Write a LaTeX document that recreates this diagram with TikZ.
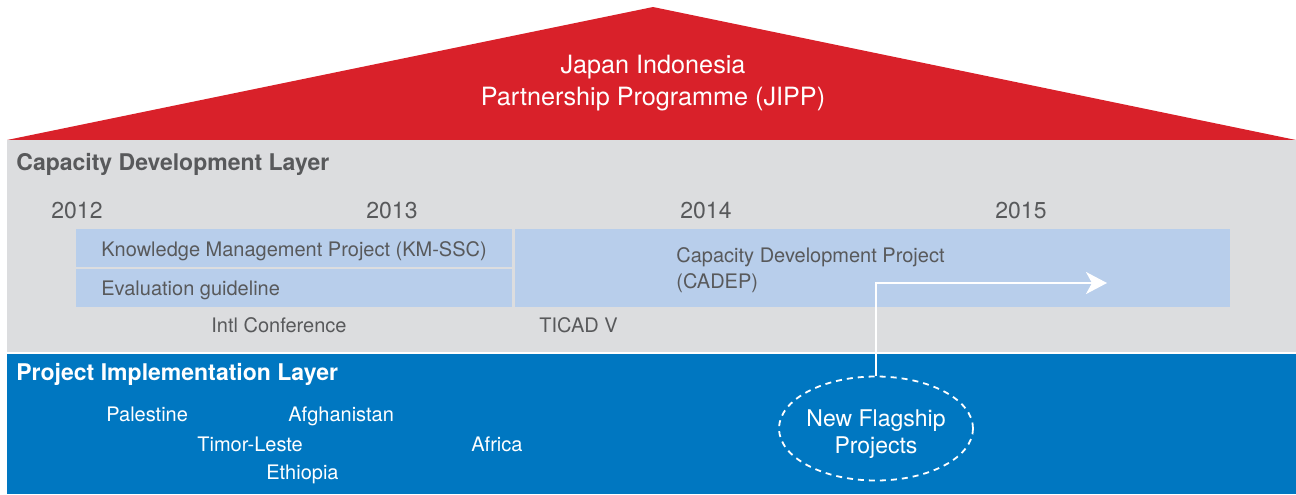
\documentclass[tikz,border=0pt]{standalone}
\usepackage{fontspec}
\setmainfont{TeX Gyre Heros}
\usetikzlibrary{shapes.geometric,arrows.meta}
\definecolor{roofred}{HTML}{D9212A}
\definecolor{capgray}{HTML}{DCDDDF}
\definecolor{implblue}{HTML}{0077C1}
\definecolor{barblue}{HTML}{B8CEEB}
\definecolor{labelgray}{HTML}{58595B}
\begin{document}
\begin{tikzpicture}[
    x=0.5pt, y=-0.5pt,
    every node/.style={inner xsep=0pt},
    roof/.style={anchor=base, align=center, text=white, font=\fontsize{12.6}{16}\selectfont},
    layer/.style={anchor=base west, font=\fontsize{11.5}{14}\selectfont\bfseries},
    year/.style={anchor=base west, text=labelgray, font=\fontsize{11.5}{14}\selectfont},
    bar/.style={fill=barblue},
    project/.style={anchor=base west, align=left, text=labelgray, font=\fontsize{10}{13}\selectfont},
    event/.style={anchor=base west, text=labelgray, font=\fontsize{10}{13}\selectfont},
    country/.style={anchor=base west, text=white, font=\fontsize{10}{12}\selectfont},
    flagship/.style={ellipse, draw=white, dash pattern=on 3pt off 2.5pt, line width=0.9pt,
        minimum width=97pt, minimum height=52pt, inner sep=0pt},
    flagtext/.style={anchor=base, align=center, text=white, font=\fontsize{11.5}{13.5}\selectfont},
    link/.style={-{Stealth[length=10.5pt, width=11pt, inset=3pt]}, white, line width=1pt}
]
    \useasboundingbox (0,0) rectangle (1296,494);

    \fill[roofred] (7,140) -- (653,7) -- (1296,140) -- cycle;
    \fill[capgray] (7,140) rectangle (1296,352);
    \fill[implblue] (7,354) rectangle (1296,494);

    % multi-line nodes sit on the baseline of their last line
    \node[roof] (jipp) at (653,105) {Japan Indonesia\\Partnership Programme (JIPP)};

    \node[layer, text=labelgray] (caplayer) at (16,170) {Capacity Development Layer};
    \node[year] (y2012) at (51,218) {2012};
    \node[year] (y2013) at (366,218) {2013};
    \node[year] (y2014) at (680,218) {2014};
    \node[year] (y2015) at (995,218) {2015};

    \fill[bar] (76,229) rectangle (511.5,267);
    \fill[bar] (76,269) rectangle (511.5,307);
    \fill[bar] (514.5,229) rectangle (1230,307);
    \node[project] (kmssc) at (101,256) {Knowledge Management Project (KM-SSC)};
    \node[project] (evalguide) at (101,295) {Evaluation guideline};
    \node[project] (cadep) at (676,288) {Capacity Development Project\\(CADEP)};

    \node[event] (intlconf) at (211,332) {Intl Conference};
    \node[event] (ticad) at (539,332) {TICAD V};

    \node[layer, text=white] (impllayer) at (16,380) {Project Implementation Layer};
    \node[country] (palestine) at (106,421) {Palestine};
    \node[country] (afghanistan) at (288,421) {Afghanistan};
    \node[country] (timorleste) at (197,451) {Timor-Leste};
    \node[country] (africa) at (471,451) {Africa};
    \node[country] (ethiopia) at (266,479) {Ethiopia};

    \node[flagship] (newflag) at (876,428.5) {};
    \node[flagtext] (newflagtext) at (876,453) {New Flagship\\Projects};
    \coordinate (cadepend) at (1107,283);
    \draw[link] (newflag.north) |- (cadepend);
\end{tikzpicture}
\end{document}
